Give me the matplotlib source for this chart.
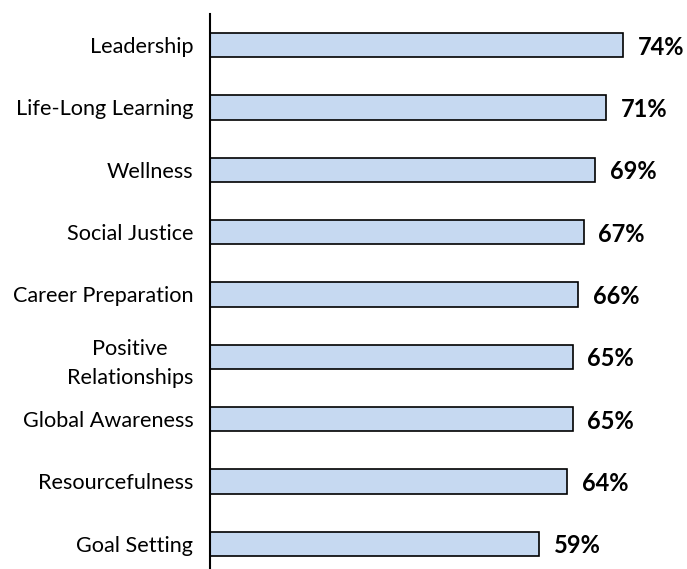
import matplotlib
matplotlib.use("Agg")
import matplotlib.pyplot as plt

categories = ["Leadership", "Life-Long Learning", "Wellness", "Social Justice",
              "Career Preparation", "Positive\nRelationships", "Global Awareness",
              "Resourcefulness", "Goal Setting"]
values = [74, 71, 69, 67, 66, 65, 65, 64, 59]

plt.rcParams['font.family'] = ['Lato', 'DejaVu Sans']

fig = plt.figure(figsize=(6.87, 5.69), dpi=100)
ax = fig.add_axes([210/687, -0.0105, 1 - 210/687, 0.986])

y = list(range(len(categories)))
ax.barh(y, values, height=0.39, color="#C6D9F1", edgecolor="black", linewidth=1.2)
for yi, v in zip(y, values):
    ax.annotate(f"{v}%", (v, yi), xytext=(10.5, -1.5), textcoords="offset points",
                va="center", ha="left", fontsize=17, fontweight="bold")

ax.set_yticks(y)
ax.set_yticklabels(categories, fontsize=15.6, linespacing=1.55, ha="right",
                   multialignment="center")
ax.tick_params(axis="y", length=0, pad=12)
ax.set_xticks([])
ax.set_xlim(0, 477/5.58)
ax.set_ylim(len(categories) - 0.5, -0.5)
for s in ["top", "right", "bottom"]:
    ax.spines[s].set_visible(False)
ax.spines["left"].set_linewidth(1.5)

fig.savefig("out.png", dpi=100)
